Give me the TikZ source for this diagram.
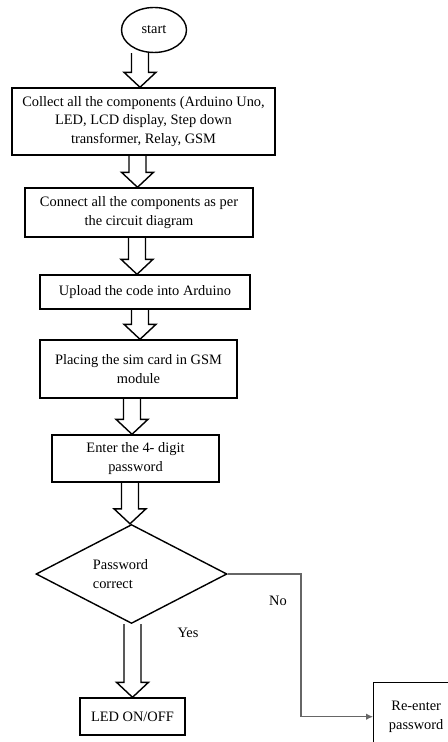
\documentclass[tikz,border=0pt]{standalone}
\usepackage{fontspec}
\setmainfont{Liberation Serif}
\usetikzlibrary{
	shapes.geometric,
	arrows.meta,
	calc
}

\def\shafthalf{0.17cm}
\def\headhalf{0.32cm}
\def\headlen{0.3cm}
\newcommand\blockarrow[3][0]{
	\draw [blockarrow] let \p1 = ($(#3.north)+(#1,0)$), \p2 = (#2.south) in
		(\x1-\shafthalf,\y2) -- (\x1-\shafthalf,\y1+\headlen)
		-- (\x1-\headhalf,\y1+\headlen) -- (\p1)
		-- (\x1+\headhalf,\y1+\headlen) -- (\x1+\shafthalf,\y1+\headlen)
		-- (\x1+\shafthalf,\y2);
}

\begin{document}
\begin{tikzpicture}[
	x = 0.02cm, y = -0.02cm,
	font = \fontsize{8.2}{10.5}\selectfont,
	stepbox/.style = {
		rectangle, draw, line width=0.8pt,
		align=center, inner sep=1pt
	},
	blockarrow/.style = {
		draw, line width=0.8pt, line join=miter
	},
	noline/.style = {
		draw=black!60, line width=0.6pt,
		-{Latex[length=1.4mm,width=1.3mm]}
	}
]
	\useasboundingbox (0,0) rectangle (448,742);
	\node [ellipse, draw, line width=0.8pt, minimum width=1.3cm, minimum height=0.9cm] (start) at (154,30) {start};
	\node [stepbox, minimum width=5.26cm, minimum height=1.34cm] (collect) at (143.5,121.5) {Collect all the components (Arduino Uno,\\LED, LCD display, Step down\\transformer, Relay, GSM};
	\node [stepbox, minimum width=4.56cm, minimum height=0.98cm] (connect) at (139,212.5) {Connect all the components as per\\the circuit diagram};
	\node [stepbox, minimum width=4.2cm, minimum height=0.68cm] (upload) at (145,292) {Upload the code into Arduino};
	\node [stepbox, minimum width=3.94cm, minimum height=1.16cm] (simcard) at (138.5,369) {Placing the sim card in GSM\\module};
	\node [stepbox, minimum width=3.34cm, minimum height=0.94cm] (password) at (135.5,458.5) {Enter the 4- digit\\password};
	\node [diamond, draw, line width=0.8pt, minimum width=3.82cm, minimum height=1.98cm,
		label={[align=left, xshift=-0.22cm]center:Password\\correct}] (check) at (131.5,574) {};
	\node [stepbox, minimum width=2.1cm, minimum height=0.74cm] (led) at (132.5,716.5) {LED ON/OFF};
	\node [stepbox, minimum width=1.7cm, minimum height=1.36cm, anchor=north west] (retry) at (373,682) {Re-enter\\password};
	\node (yes) at (188,633) {Yes};
	\node (no) at (278,601) {No};
	\coordinate (turn) at (301,574);

	\blockarrow[-3.5]{start}{collect}
	\blockarrow[-1.5]{collect}{connect}
	\blockarrow[-8]{connect}{upload}
	\blockarrow[1.5]{upload}{simcard}
	\blockarrow[-3.5]{simcard}{password}
	\blockarrow[-1.5]{password}{check}
	\blockarrow{check}{led}
	\draw [noline] (check.east) -- (turn) |- (retry.west);
\end{tikzpicture}
\end{document}
